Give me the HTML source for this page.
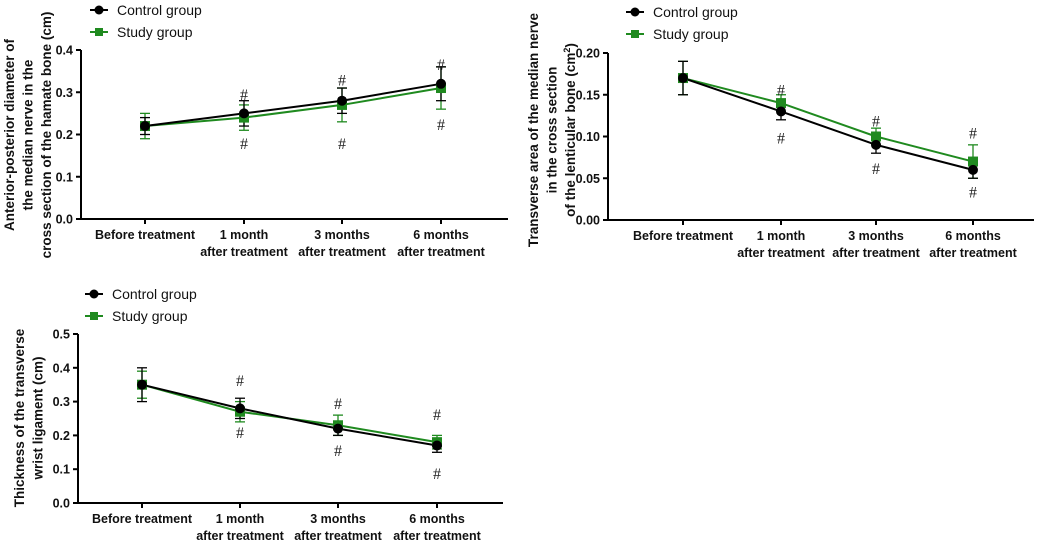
<!DOCTYPE html>
<html><head><meta charset="utf-8">
<style>
html,body{margin:0;padding:0;background:#fff;}
svg{display:block;font-family:"Liberation Sans",Arial,sans-serif;}
.tick{font-size:12.5px;font-weight:bold;fill:#111;}
.leg{font-size:14px;fill:#111;}
.ytitle{font-size:13.5px;font-weight:bold;fill:#111;}
.hash{font-size:16px;fill:#222;font-family:"Liberation Serif",serif;}
</style></head>
<body>
<svg id="root" width="1052" height="543" viewBox="0 0 1052 543" xmlns="http://www.w3.org/2000/svg"></svg>
<script>
const categories = ["Before treatment", "1 month|after treatment", "3 months|after treatment", "6 months|after treatment"];

const c1Control = [0.22, 0.25, 0.28, 0.32];
const c1ControlErr = [0.02, 0.03, 0.03, 0.04];
const c1Study = [0.22, 0.24, 0.27, 0.31];
const c1StudyErr = [0.03, 0.03, 0.04, 0.05];
const c1Ticks = ["0.0", "0.1", "0.2", "0.3", "0.4"];
const c1HashUp = [null, 0.296, 0.33, 0.367];
const c1HashDown = [null, 0.18, 0.18, 0.225];

const c2Control = [0.17, 0.13, 0.09, 0.06];
const c2ControlErr = [0.02, 0.01, 0.01, 0.01];
const c2Study = [0.17, 0.14, 0.10, 0.07];
const c2StudyErr = [0.02, 0.01, 0.01, 0.02];
const c2Ticks = ["0.00", "0.05", "0.10", "0.15", "0.20"];
const c2HashUp = [null, 0.156, 0.119, 0.105];
const c2HashDown = [null, 0.099, 0.062, 0.034];

const c3Control = [0.35, 0.28, 0.22, 0.17];
const c3ControlErr = [0.05, 0.03, 0.02, 0.02];
const c3Study = [0.35, 0.27, 0.23, 0.18];
const c3StudyErr = [0.04, 0.03, 0.03, 0.02];
const c3Ticks = ["0.0", "0.1", "0.2", "0.3", "0.4", "0.5"];
const c3HashUp = [null, 0.364, 0.296, 0.263];
const c3HashDown = [null, 0.21, 0.157, 0.089];

const NS = "http://www.w3.org/2000/svg";
const root = document.getElementById("root");
function mk(tag, attrs, parent, text) {
  const e = document.createElementNS(NS, tag);
  for (const k in attrs) e.setAttribute(k, attrs[k]);
  if (text !== undefined) e.textContent = text;
  parent.appendChild(e);
  return e;
}
const GREEN = "#1f8a1f";

function chart(cfg) {
  const g = mk("g", {}, root);
  
  
  const ymax = cfg.ymax;
  const y = v => cfg.y0 - (v / ymax) * (cfg.y0 - cfg.yTop);
  const x = i => cfg.xs[i];
  const yaxis = mk("line", {x1: cfg.ax, y1: cfg.yTop, x2: cfg.ax, y2: cfg.y0 + 1, stroke: "#000", "stroke-width": 2}, g);
  
  
  const xaxis = mk("line", {x1: cfg.ax - 1, y1: cfg.y0, x2: cfg.xEnd, y2: cfg.y0, stroke: "#000", "stroke-width": 2}, g);
  
  
  const n = cfg.ticks.length;
  cfg.ticks.forEach((t, i) => {
    const v = ymax * i / (n - 1);
    mk("line", {x1: cfg.ax - 5, y1: y(v), x2: cfg.ax, y2: y(v), stroke: "#000", "stroke-width": 2}, g);
    const tl = mk("text", {x: cfg.ax - 8, y: y(v) + 4.5, "text-anchor": "end", class: "tick"}, g, t);
    
    
  });
  categories.forEach((c, i) => {
    mk("line", {x1: x(i), y1: cfg.y0, x2: x(i), y2: cfg.y0 + 5, stroke: "#000", "stroke-width": 2}, g);
    const parts = c.split("|");
    parts.forEach((p, j) => {
      const tl = mk("text", {x: x(i), y: cfg.y0 + 20 + j * 17, "text-anchor": "middle", class: "tick"}, g, p);
      
      
    });
  });
  const tt = mk("text", {transform: `translate(${cfg.titleX},${cfg.titleY}) rotate(-90)`, "text-anchor": "middle", class: "ytitle"}, g);
  
  
  cfg.title.forEach((line, j) => {
    const ts = mk("tspan", {x: 0, dy: j === 0 ? 0 : 18.5}, tt);
    if (line.indexOf("^2") >= 0) {
      const [a, b] = line.split("^2");
      ts.textContent = a;
      mk("tspan", {dy: -5, "font-size": "9px"}, ts, "2");
      mk("tspan", {dy: 5}, ts, b);
    } else ts.textContent = line;
  });
  const series = [
    {vals: cfg.study, err: cfg.studyErr, color: GREEN, shape: "square", name: "study"},
    {vals: cfg.control, err: cfg.controlErr, color: "#000", shape: "circle", name: "control"}
  ];
  series.forEach(s => {
    s.vals.forEach((v, i) => {
      const e = s.err[i];
      const eb = mk("g", {stroke: s.color, "stroke-width": 1.3}, g);
      
      
      mk("line", {x1: x(i), y1: y(v + e), x2: x(i), y2: y(v - e)}, eb);
      mk("line", {x1: x(i) - 5, y1: y(v + e), x2: x(i) + 5, y2: y(v + e)}, eb);
      mk("line", {x1: x(i) - 5, y1: y(v - e), x2: x(i) + 5, y2: y(v - e)}, eb);
    });
  });
  series.forEach(s => {
    const pts = s.vals.map((v, i) => `${x(i)},${y(v)}`).join(" ");
    const pl = mk("polyline", {points: pts, fill: "none", stroke: s.color, "stroke-width": 2}, g);
    
    
  });
  series.forEach(s => {
    s.vals.forEach((v, i) => {
      let m;
      if (s.shape === "square") m = mk("rect", {x: x(i) - 5, y: y(v) - 5, width: 10, height: 10, fill: s.color}, g);
      else m = mk("circle", {cx: x(i), cy: y(v), r: 5, fill: s.color}, g);
      
      
    });
  });
  [cfg.hashUp, cfg.hashDown].forEach(arr => arr.forEach((v, i) => {
    if (v === null) return;
    const h = mk("text", {x: x(i), y: y(v) + 6, "text-anchor": "middle", class: "hash"}, g, "#");
    
    
  }));
  const lg = mk("g", {}, g);
  
  
  const e1 = mk("g", {}, lg);
  
  
  mk("line", {x1: cfg.lx, y1: cfg.ly, x2: cfg.lx + 18, y2: cfg.ly, stroke: "#000", "stroke-width": 2}, e1);
  mk("circle", {cx: cfg.lx + 9, cy: cfg.ly, r: 4.5, fill: "#000"}, e1);
  mk("text", {x: cfg.lx + 27, y: cfg.ly + 5, class: "leg"}, e1, "Control group");
  const e2 = mk("g", {}, lg);
  
  
  mk("line", {x1: cfg.lx, y1: cfg.ly + 22, x2: cfg.lx + 18, y2: cfg.ly + 22, stroke: GREEN, "stroke-width": 2}, e2);
  mk("rect", {x: cfg.lx + 5, y: cfg.ly + 18, width: 8, height: 8, fill: GREEN}, e2);
  mk("text", {x: cfg.lx + 27, y: cfg.ly + 27, class: "leg"}, e2, "Study group");
}

chart({name: "chart-hamate-diameter", ax: 81, yTop: 50, y0: 219, xEnd: 508, ymax: 0.4,
  xs: [145, 244, 342, 441], ticks: c1Ticks,
  control: c1Control, controlErr: c1ControlErr, study: c1Study, studyErr: c1StudyErr,
  hashUp: c1HashUp, hashDown: c1HashDown,
  title: ["Anterior-posterior diameter of", "the median nerve in the", "cross section of the hamate bone (cm)"],
  titleX: 14, titleY: 135, lx: 90, ly: 10});

chart({name: "chart-lenticular-area", ax: 608, yTop: 53, y0: 220, xEnd: 1034, ymax: 0.2,
  xs: [683, 781, 876, 973], ticks: c2Ticks,
  control: c2Control, controlErr: c2ControlErr, study: c2Study, studyErr: c2StudyErr,
  hashUp: c2HashUp, hashDown: c2HashDown,
  title: ["Transverse area of the median nerve", "in the cross section", "of the lenticular bone (cm^2)"],
  titleX: 538, titleY: 130, lx: 626, ly: 12});

chart({name: "chart-ligament-thickness", ax: 78, yTop: 334, y0: 503, xEnd: 503, ymax: 0.5,
  xs: [142, 240, 338, 437], ticks: c3Ticks,
  control: c3Control, controlErr: c3ControlErr, study: c3Study, studyErr: c3StudyErr,
  hashUp: c3HashUp, hashDown: c3HashDown,
  title: ["Thickness of the transverse", "wrist ligament (cm)"],
  titleX: 24, titleY: 418, lx: 85, ly: 294});
</script>
</body></html>
